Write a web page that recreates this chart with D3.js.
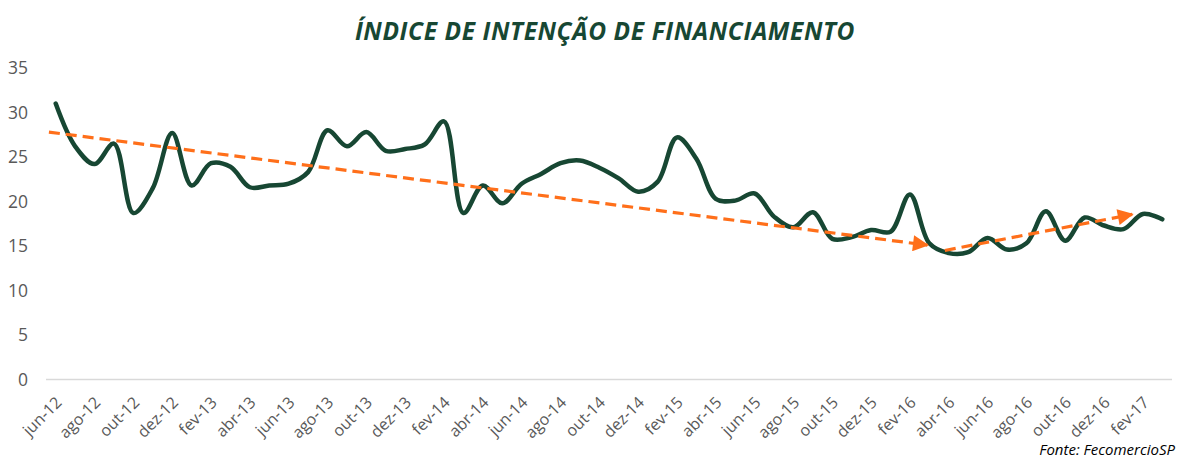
<!DOCTYPE html>
<html>
<head>
<meta charset="utf-8">
<script src="https://cdn.jsdelivr.net/npm/d3@7"></script>
<style>
  body { margin: 0; background: #fff; }
  text { font-family: "Open Sans", "DejaVu Sans", sans-serif; }
</style>
</head>
<body>
<script>
// meses (jun-12 .. mar-17)
var meses = ["jun-12","jul-12","ago-12","set-12","out-12","nov-12","dez-12",
  "jan-13","fev-13","mar-13","abr-13","mai-13","jun-13","jul-13","ago-13","set-13","out-13","nov-13","dez-13",
  "jan-14","fev-14","mar-14","abr-14","mai-14","jun-14","jul-14","ago-14","set-14","out-14","nov-14","dez-14",
  "jan-15","fev-15","mar-15","abr-15","mai-15","jun-15","jul-15","ago-15","set-15","out-15","nov-15","dez-15",
  "jan-16","fev-16","mar-16","abr-16","mai-16","jun-16","jul-16","ago-16","set-16","out-16","nov-16","dez-16",
  "jan-17","fev-17","mar-17"];

// valores do índice
var valores = [31.0, 26.2, 24.2, 26.5, 18.7, 21.5, 27.7,
  21.8, 24.3, 23.9, 21.6, 21.8, 22.0, 23.3, 28.0, 26.2, 27.8, 25.7, 25.9,
  26.4, 29.0, 18.7, 21.8, 19.8, 22.0, 23.1, 24.3, 24.6, 23.8, 22.6, 21.1,
  22.2, 27.2, 24.8, 20.3, 20.1, 20.9, 18.3, 17.1, 18.8, 15.8, 16.0, 16.8,
  16.6, 20.8, 15.3, 14.2, 14.3, 15.9, 14.6, 15.3, 18.9, 15.6, 18.2, 17.3,
  16.9, 18.6, 18.0];

// tendências (índice do mês, valor)
var tendencia1 = [[-0.35, 27.8], [44.9, 15.1]];
var tendencia2 = [[45.8, 14.5], [55.45, 18.55]];

var yTicks = [0, 5, 10, 15, 20, 25, 30, 35];

var w = 1191, h = 459;
var verde = "#174733";
var laranja = "#FF6F1A";

var svg = d3.select("body").append("svg")
  .attr("width", w)
  .attr("height", h);

var x = d3.scaleLinear().domain([-0.5, meses.length - 0.5]).range([46, 1172]);
var y = d3.scaleLinear().domain([0, 35]).range([379.5, 68]);

// titulo
svg.append("text")
  .attr("x", 605)
  .attr("y", 40)
  .attr("text-anchor", "middle")
  .attr("fill", verde)
  .style("font-size", "24.5px")
  .style("font-weight", "bold")
  .style("font-style", "italic")
  .style("letter-spacing", "0.6px")
  .text("ÍNDICE DE INTENÇÃO DE FINANCIAMENTO");

// eixo y (só rótulos)
svg.append("g").selectAll("text")
  .data(yTicks)
  .enter().append("text")
  .attr("x", 28)
  .attr("y", d => y(d) + 6)
  .attr("text-anchor", "end")
  .attr("fill", "#595959")
  .style("font-size", "17.5px")
  .text(d => d);

// linha do eixo x
svg.append("line")
  .attr("x1", x.range()[0]).attr("x2", x.range()[1])
  .attr("y1", y(0)).attr("y2", y(0))
  .attr("stroke", "#d9d9d9")
  .attr("stroke-width", 1.5);

// rotulos x a cada 2 meses
var idx = d3.range(0, meses.length, 2);
svg.append("g").selectAll("text")
  .data(idx)
  .enter().append("text")
  .attr("text-anchor", "end")
  .attr("transform", d => "translate(" + (x(d) + 7) + "," + (y(0) + 24) + ") rotate(-45)")
  .attr("fill", "#595959")
  .style("font-size", "16px")
  .text(d => meses[d]);

// serie
var linha = d3.line()
  .x((d, i) => x(i))
  .y(d => y(d))
  .curve(d3.curveCatmullRom.alpha(0.5));

svg.append("path")
  .datum(valores)
  .attr("d", linha)
  .attr("fill", "none")
  .attr("stroke", verde)
  .attr("stroke-width", 4.5)
  .attr("stroke-linecap", "round");

// seta
svg.append("defs").append("marker")
  .attr("id", "seta")
  .attr("viewBox", "0 0 10 10")
  .attr("refX", 9).attr("refY", 5)
  .attr("markerWidth", 5.5).attr("markerHeight", 5)
  .attr("markerUnits", "strokeWidth")
  .attr("orient", "auto")
  .append("path")
  .attr("d", "M0,0 L10,5 L0,10 Z")
  .attr("fill", laranja);

var reta = d3.line().x(d => x(d[0])).y(d => y(d[1]));

[tendencia1, tendencia2].forEach(function(t) {
  svg.append("path")
    .datum(t)
    .attr("d", reta)
    .attr("fill", "none")
    .attr("stroke", laranja)
    .attr("stroke-width", 3.2)
    .attr("stroke-dasharray", "11,6")
    .attr("marker-end", "url(#seta)");
});

// fonte
svg.append("text")
  .attr("x", 1175)
  .attr("y", 455)
  .attr("text-anchor", "end")
  .attr("fill", "#000")
  .style("font-size", "15px")
  .style("font-style", "italic")
  .text("Fonte: FecomercioSP");
</script>
</body>
</html>
